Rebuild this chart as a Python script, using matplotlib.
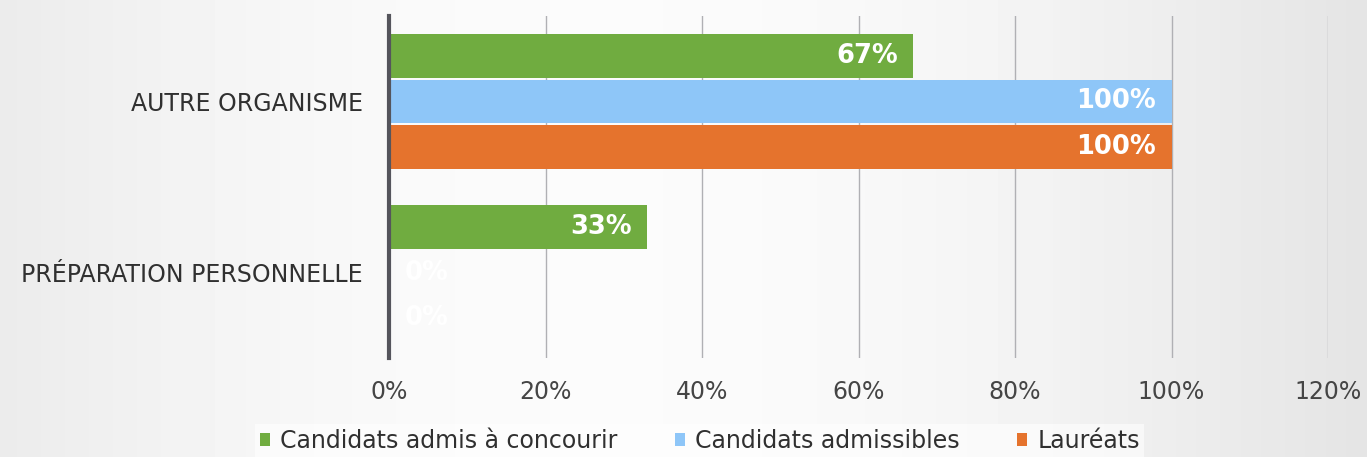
import numpy as np
import matplotlib.pyplot as plt
from matplotlib.patches import Patch

# data
categories = ["PRÉPARATION PERSONNELLE", "AUTRE ORGANISME"]
series_names = ["Candidats admis à concourir", "Candidats admissibles", "Lauréats"]
admis = [33, 67]
admissibles = [0, 100]
laureats = [0, 100]
xticks = [0, 20, 40, 60, 80, 100, 120]

colors = ["#70ac40", "#8ec6f8", "#e5732d"]

fig = plt.figure(figsize=(13.67, 4.57), dpi=100)

# scanned-paper look: soft grey gradient behind everything
bg = fig.add_axes([0, 0, 1, 1], zorder=-10)
xx = np.linspace(0, 1, 400)
shade = 0.895 + 0.09 * np.clip(np.sin(np.pi * (xx * 0.9 + 0.1)), 0, 1)
bg.imshow(np.tile(shade, (20, 1)), cmap="gray", vmin=0, vmax=1,
          aspect="auto", extent=[0, 1, 0, 1])
bg.set_axis_off()

ax = fig.add_axes([0.2846, 0.2166, 0.6869, 0.7484])
ax.patch.set_alpha(0)

y = np.arange(len(categories))
h = 0.267
offsets = [h, 0, -h]
for vals, name, c, off in zip([admis, admissibles, laureats], series_names, colors, offsets):
    bars = ax.barh(y + off, vals, height=h * 0.96, color=c, label=name, zorder=3)
    for b, v in zip(bars, vals):
        cy = b.get_y() + b.get_height() / 2
        if v > 0:
            ax.annotate(f"{v}%", (v, cy), xytext=(-11, 0), textcoords="offset points",
                        ha="right", va="center", color="white", fontsize=18.5,
                        fontweight="bold", zorder=4)
        else:
            ax.annotate(f"{v}%", (v, cy), xytext=(11, 0), textcoords="offset points",
                        ha="left", va="center", color="white", fontsize=18.5,
                        fontweight="bold", zorder=4)

ax.set_xlim(0, 120)
ax.set_ylim(-0.5, 1.5)
ax.set_xticks(xticks)
ax.set_xticklabels([f"{t}%" for t in xticks], fontsize=17, color="#454545")
ax.set_yticks(y)
ax.set_yticklabels(categories, fontsize=17, color="#303030")
ax.tick_params(axis="x", length=0, pad=16)
ax.tick_params(axis="y", length=0, pad=19)
ax.grid(axis="x", color="#b0b0b4", linewidth=1, zorder=0)
for s in ["top", "right", "bottom"]:
    ax.spines[s].set_visible(False)
ax.spines["left"].set_color("#55555c")
ax.spines["left"].set_linewidth(3)
ax.spines["left"].set_zorder(5)

handles = [Patch(facecolor=c, label=n) for c, n in zip(colors, series_names)]
leg = fig.legend(handles=handles, loc="center", bbox_to_anchor=(0.512, 0.035),
                 ncol=3, fontsize=17, frameon=True, fancybox=False,
                 handlelength=0.42, handleheight=0.42, handletextpad=0.42,
                 columnspacing=2.45, borderpad=0.2, borderaxespad=0)
leg.get_frame().set_facecolor("white")
leg.get_frame().set_alpha(0.6)
leg.get_frame().set_edgecolor("none")
for t in leg.get_texts():
    t.set_color("#303030")

fig.savefig("out.png", dpi=100)
